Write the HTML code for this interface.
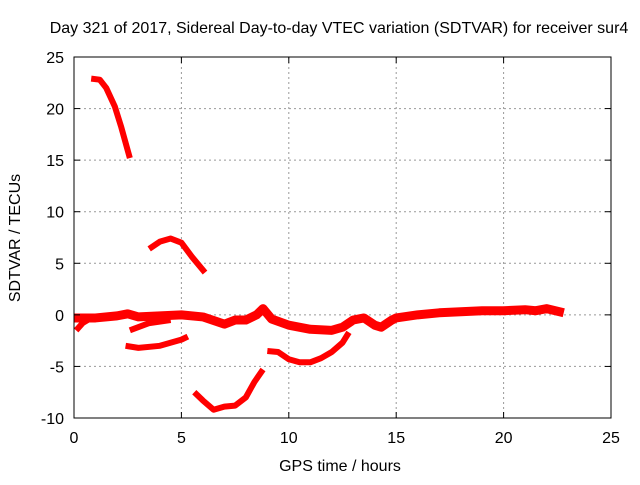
<!DOCTYPE html>
<html><head><meta charset="utf-8"><style>
body{margin:0;background:#fff}
svg text{font-family:"Liberation Sans",sans-serif;font-size:16px;fill:#000}
</style></head><body>
<svg id="chart" width="640" height="480" xmlns="http://www.w3.org/2000/svg">
<text x="339" y="33" text-anchor="middle">Day 321 of 2017, Sidereal Day-to-day VTEC variation (SDTVAR) for receiver sur4</text>
<text x="340" y="471" text-anchor="middle">GPS time / hours</text>
<text transform="translate(20,238) rotate(-90)" text-anchor="middle">SDTVAR / TECUs</text>
<g id="grid"></g><g id="series"></g>
<rect x="74" y="57" width="537" height="361" fill="none" stroke="#000" stroke-width="1"/>
<g id="ticks"></g>
</svg>
<script>
const xTicks=[0,5,10,15,20,25];
const yTicks=[-10,-5,0,5,10,15,20,25];
const segA=[[0.8,22.9],[1.2,22.8],[1.5,22],[1.9,20.2],[2.2,18.2],[2.6,15.2]];
const segB=[[3.5,6.4],[4,7.1],[4.5,7.4],[5,7],[5.5,5.6],[6.1,4.1]];
const segC=[[0,-0.3],[1,-0.3],[2,-0.1],[2.5,0.1],[3,-0.2],[4,-0.1],[5,0],[6,-0.2],[7,-0.9],[7.5,-0.5],[8,-0.5],[8.5,0],[8.8,0.6],[9.2,-0.4],[10,-1],[11,-1.4],[12,-1.5],[12.5,-1.2],[13,-0.5],[13.5,-0.3],[14,-1],[14.3,-1.2],[14.8,-0.5],[15,-0.3],[16,0],[17,0.2],[18,0.3],[19,0.4],[20,0.4],[21,0.5],[21.5,0.4],[22,0.6],[22.8,0.2]];
const segD=[[0.1,-1.5],[0.4,-0.8],[0.8,-0.3]];
const segD2=[[2.6,-1.5],[3.5,-0.8],[4.5,-0.5]];
const segE=[[2.4,-3],[3,-3.2],[4,-3],[5,-2.4],[5.3,-2.1]];
const segF=[[5.6,-7.5],[6,-8.3],[6.5,-9.2],[7,-8.9],[7.5,-8.8],[8,-8],[8.4,-6.5],[8.8,-5.3]];
const segG=[[9,-3.5],[9.5,-3.6],[10,-4.3],[10.5,-4.6],[11,-4.6],[11.5,-4.2],[12,-3.6],[12.5,-2.7],[12.8,-1.7]];
const segs=[segA,segB,segC,segD,segD2,segE,segF,segG];
const widths=[6,6,9,6,6,6,6,6];
const X=h=>74+h*537/25, Y=v=>418-(v+10)*361/35;
const NS='http://www.w3.org/2000/svg';
const grid=document.getElementById('grid'),ticks=document.getElementById('ticks'),ser=document.getElementById('series');
function mk(tag,attrs,parent){const e=document.createElementNS(NS,tag);for(const k in attrs)e.setAttribute(k,attrs[k]);parent.appendChild(e);return e;}
xTicks.forEach(t=>{const x=X(t);
 if(t>0&&t<25){const g=mk('line',{x1:x,x2:x,y1:57,y2:418,stroke:'#999','stroke-dasharray':'2,3'},grid);
 
 }
 mk('line',{x1:x,x2:x,y1:418,y2:412,stroke:'#000'},ticks);mk('line',{x1:x,x2:x,y1:57,y2:63,stroke:'#000'},ticks);
 const l=mk('text',{x:x,y:443,'text-anchor':'middle'},ticks);l.textContent=t;
 
 });
yTicks.forEach(t=>{const y=Y(t);
 if(t>-10&&t<25){const g=mk('line',{x1:74,x2:611,y1:y,y2:y,stroke:'#999','stroke-dasharray':'2,3'},grid);
 
 }
 mk('line',{x1:74,x2:80,y1:y,y2:y,stroke:'#000'},ticks);mk('line',{x1:605,x2:611,y1:y,y2:y,stroke:'#000'},ticks);
 const l=mk('text',{x:64,y:y+6,'text-anchor':'end'},ticks);l.textContent=t;
 
 });
segs.forEach((s,i)=>{const p=mk('polyline',{points:s.map(d=>X(d[0])+','+Y(d[1])).join(' '),fill:'none',stroke:'#f00','stroke-width':widths[i],'stroke-linejoin':'round'},ser);
 
 });
</script>
</body></html>
